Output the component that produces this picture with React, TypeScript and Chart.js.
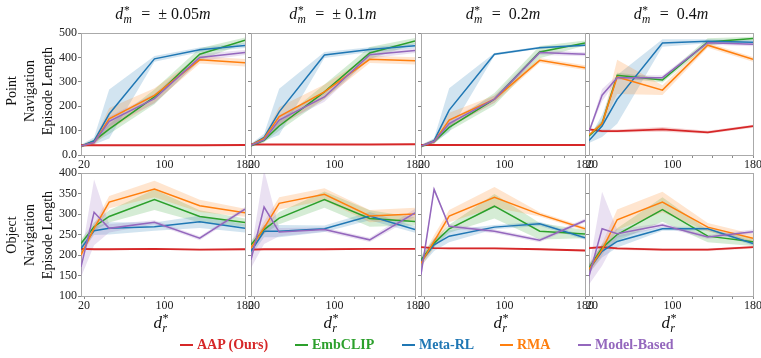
import React, { useEffect, useRef } from 'react';
import { Chart, registerables } from 'chart.js';

Chart.register(...registerables);

// ---------------- data ----------------
const X = [17, 30, 45, 90, 135, 180];
const X_MIN = 17;
const X_MAX = 180;
const X_TICKS = [20, 40, 60, 80, 100, 120, 140, 160, 180];
const X_LABELED = [20, 100, 180];
const SERIES = ['AAP (Ours)', 'EmbCLIP', 'Meta-RL', 'RMA', 'Model-Based'];
const COLORS = ['#d62728', '#2ca02c', '#1f77b4', '#ff7f0e', '#9467bd'];
const COLUMN_VALUES = ['\u00b1 0.05', '\u00b1 0.1', '0.2', '0.4'];
const ROW_LABELS = [
  ['Point', 'Navigation', 'Episode Length'],
  ['Object', 'Navigation', 'Episode Length'],
];
const POINT_Y = { min: 0, max: 500, step: 100 };
const OBJECT_Y = { min: 100, max: 400, step: 50 };

// Point navigation (rows = d*_m columns: ±0.05, ±0.1, 0.2, 0.4)
const POINT_AAP = [
  [40, 40, 40, 40, 40, 41],
  [43, 43, 43, 43, 43, 44],
  [41, 41, 41, 41, 41, 41],
  [105, 98, 98, 105, 93, 118],
];
const POINT_AAP_SD = [
  [2, 2, 2, 2, 2, 2],
  [2, 2, 2, 2, 2, 2],
  [2, 2, 2, 2, 2, 2],
  [6, 6, 6, 10, 6, 6],
];
const POINT_EMBCLIP = [
  [35, 58, 106, 238, 413, 470],
  [38, 60, 119, 259, 418, 467],
  [35, 55, 113, 229, 422, 459],
  [78, 129, 327, 307, 463, 477],
];
const POINT_EMBCLIP_SD = [
  [5, 8, 20, 30, 25, 12],
  [5, 8, 20, 30, 25, 12],
  [5, 8, 15, 25, 25, 10],
  [5, 15, 10, 10, 15, 8],
];
const POINT_METARL = [
  [37, 58, 168, 394, 431, 449],
  [41, 72, 177, 410, 432, 448],
  [37, 59, 184, 413, 440, 450],
  [59, 119, 228, 459, 466, 462],
];
const POINT_METARL_SD = [
  [5, 15, 100, 12, 10, 10],
  [5, 15, 95, 12, 10, 10],
  [5, 10, 90, 5, 5, 5],
  [10, 45, 100, 15, 8, 8],
];
const POINT_RMA = [
  [37, 51, 148, 244, 390, 378],
  [41, 68, 157, 259, 392, 386],
  [37, 55, 143, 229, 388, 358],
  [82, 129, 320, 266, 450, 392],
];
const POINT_RMA_SD = [
  [5, 10, 45, 30, 15, 15],
  [5, 10, 40, 30, 15, 15],
  [5, 10, 30, 15, 10, 10],
  [5, 10, 70, 20, 10, 10],
];
const POINT_MODEL = [
  [37, 51, 138, 231, 400, 420],
  [40, 62, 143, 238, 411, 428],
  [37, 55, 129, 229, 420, 413],
  [95, 245, 317, 317, 460, 454],
];
const POINT_MODEL_SD = [
  [5, 10, 20, 20, 15, 10],
  [5, 10, 20, 20, 15, 10],
  [5, 10, 15, 15, 10, 8],
  [5, 25, 10, 10, 8, 8],
];

// Object navigation
const OBJ_AAP = [
  [215, 214, 214, 215, 213, 214],
  [213, 214, 214, 214, 215, 215],
  [219, 217, 216, 216, 214, 211],
  [217, 219, 216, 213, 213, 219],
];
const OBJ_AAP_SD = [
  [2, 2, 2, 2, 2, 2],
  [2, 2, 2, 2, 2, 2],
  [2, 2, 2, 2, 2, 2],
  [3, 3, 3, 3, 3, 3],
];
const OBJ_EMBCLIP = [
  [228, 269, 294, 335, 294, 279],
  [225, 262, 290, 335, 289, 282],
  [188, 229, 264, 319, 258, 251],
  [168, 217, 250, 311, 246, 232],
];
const OBJ_EMBCLIP_SD = [
  [10, 10, 15, 25, 15, 10],
  [10, 10, 15, 20, 20, 10],
  [10, 10, 10, 30, 20, 10],
  [10, 10, 15, 30, 15, 10],
];
const OBJ_METARL = [
  [216, 259, 265, 269, 281, 265],
  [209, 258, 258, 264, 295, 262],
  [184, 225, 246, 268, 276, 242],
  [165, 209, 233, 264, 264, 228],
];
const OBJ_METARL_SD = [
  [10, 10, 15, 10, 15, 10],
  [10, 15, 15, 8, 10, 8],
  [10, 15, 15, 5, 5, 5],
  [10, 15, 15, 5, 5, 5],
];
const OBJ_RMA = [
  [200, 265, 329, 361, 320, 303],
  [217, 266, 326, 348, 295, 300],
  [180, 233, 295, 341, 299, 264],
  [165, 213, 286, 329, 268, 241],
];
const OBJ_RMA_SD = [
  [10, 10, 15, 20, 15, 10],
  [10, 15, 15, 15, 15, 15],
  [10, 15, 15, 25, 5, 5],
  [10, 15, 25, 25, 10, 10],
];
const OBJ_MODEL = [
  [171, 304, 265, 280, 241, 312],
  [188, 317, 256, 262, 237, 303],
  [152, 360, 270, 258, 236, 284],
  [148, 264, 252, 273, 244, 257],
];
const OBJ_MODEL_SD = [
  [25, 80, 10, 5, 5, 5],
  [20, 90, 10, 5, 5, 10],
  [10, 5, 5, 5, 5, 5],
  [20, 90, 10, 5, 5, 5],
];

const MEANS = [
  [POINT_AAP, POINT_EMBCLIP, POINT_METARL, POINT_RMA, POINT_MODEL],
  [OBJ_AAP, OBJ_EMBCLIP, OBJ_METARL, OBJ_RMA, OBJ_MODEL],
];
const SPREADS = [
  [POINT_AAP_SD, POINT_EMBCLIP_SD, POINT_METARL_SD, POINT_RMA_SD, POINT_MODEL_SD],
  [OBJ_AAP_SD, OBJ_EMBCLIP_SD, OBJ_METARL_SD, OBJ_RMA_SD, OBJ_MODEL_SD],
];

// ---------------- layout ----------------
const SERIF = '"Liberation Serif", "Times New Roman", Times, serif';
const COL_LEFT = [81, 251, 421, 589];
const PLOT_W = 164;
const ROW_TOP = [33, 173];
const PLOT_H = [122, 123];
const PAD_T = 10;
const PAD_R = 14;
const PAD_B = 24;
const LEGEND_X = [180, 295, 402, 500, 578];

function hexToRgba(hex: string, a: number) {
  const n = parseInt(hex.slice(1), 16);
  return `rgba(${(n >> 16) & 255}, ${(n >> 8) & 255}, ${n & 255}, ${a})`;
}

function Panel({ row, col }: { row: number; col: number }) {
  const ref = useRef<HTMLCanvasElement>(null);
  const padL = col === 0 ? 40 : 8;
  const w = padL + PLOT_W + PAD_R;
  const h = PAD_T + PLOT_H[row] + PAD_B;

  useEffect(() => {
    if (!ref.current) return;
    const yCfg = row === 0 ? POINT_Y : OBJECT_Y;
    const datasets: any[] = [];
    SERIES.forEach((name, s) => {
      const m = MEANS[row][s][col];
      datasets.push({
        label: name,
        data: X.map((x, i) => ({ x, y: m[i] })),
        borderColor: COLORS[s],
        backgroundColor: COLORS[s],
        borderWidth: s === 0 ? 1.8 : 1.5,
        pointRadius: 0,
        tension: 0,
        fill: false,
        order: 5 - s,
        xAxisID: 'x',
        yAxisID: 'y',
      });
    });
    SERIES.forEach((name, s) => {
      const m = MEANS[row][s][col];
      const sd = SPREADS[row][s][col];
      datasets.push({
        label: name + ' upper',
        data: X.map((x, i) => ({ x, y: m[i] + sd[i] })),
        borderWidth: 0,
        borderColor: 'rgba(0,0,0,0)',
        backgroundColor: hexToRgba(COLORS[s], 0.2),
        pointRadius: 0,
        tension: 0,
        fill: '+1',
        order: 20 - s,
        xAxisID: 'x',
        yAxisID: 'y',
      });
      datasets.push({
        label: name + ' lower',
        data: X.map((x, i) => ({ x, y: m[i] - sd[i] })),
        borderWidth: 0,
        borderColor: 'rgba(0,0,0,0)',
        pointRadius: 0,
        tension: 0,
        fill: false,
        order: 20 - s,
        xAxisID: 'x',
        yAxisID: 'y',
      });
    });

    const tickFont = { family: SERIF, size: 12 };
    const chart = new Chart(ref.current, {
      type: 'line',
      data: { datasets },
      options: {
        animation: false,
        responsive: false,
        maintainAspectRatio: false,
        devicePixelRatio: 1,
        layout: { padding: { top: PAD_T, right: PAD_R, left: 0, bottom: 0 } },
        plugins: { legend: { display: false }, tooltip: { enabled: false } },
        scales: {
          x: {
            type: 'linear',
            axis: 'x',
            position: 'bottom',
            min: X_MIN,
            max: X_MAX,
            afterBuildTicks: (a: any) => {
              a.ticks = X_TICKS.map((v) => ({ value: v }));
            },
            afterFit: (a: any) => {
              a.height = PAD_B;
            },
            ticks: {
              autoSkip: false,
              maxRotation: 0,
              minRotation: 0,
              padding: 0,
              color: '#222',
              font: tickFont,
              callback: (v: any) => (X_LABELED.includes(Number(v)) ? String(v) : ''),
            },
            grid: { drawOnChartArea: false, drawTicks: true, tickLength: 3, tickColor: '#8a8a8a', tickWidth: 1 },
            border: { display: true, color: '#aaaaaa', width: 1 },
          },
          y: {
            type: 'linear',
            axis: 'y',
            position: 'left',
            min: yCfg.min,
            max: yCfg.max,
            afterFit: (a: any) => {
              a.width = padL;
            },
            ticks: {
              stepSize: yCfg.step,
              autoSkip: false,
              padding: 1,
              color: '#222',
              font: tickFont,
              callback: (v: any) => (col === 0 ? (Number(v) === 0 ? '0.0' : String(v)) : ''),
            },
            grid: { drawOnChartArea: false, drawTicks: true, tickLength: 3, tickColor: '#8a8a8a', tickWidth: 1 },
            border: { display: true, color: '#aaaaaa', width: 1 },
          },
          xTop: {
            type: 'linear',
            axis: 'x',
            position: 'top',
            min: X_MIN,
            max: X_MAX,
            afterFit: (a: any) => {
              a.height = 0;
            },
            ticks: { display: false },
            grid: { drawOnChartArea: false, drawTicks: false },
            border: { display: true, color: '#aaaaaa', width: 1 },
          },
          yRight: {
            type: 'linear',
            axis: 'y',
            position: 'right',
            min: yCfg.min,
            max: yCfg.max,
            afterFit: (a: any) => {
              a.width = 0;
            },
            ticks: { display: false },
            grid: { drawOnChartArea: false, drawTicks: false },
            border: { display: true, color: '#aaaaaa', width: 1 },
          },
        },
      } as any,
    });
    return () => chart.destroy();
  }, [row, col]);

  return (
    <canvas
      ref={ref}
      width={w}
      height={h}
      style={{
        position: 'absolute',
        left: COL_LEFT[col] - padL,
        top: ROW_TOP[row] - PAD_T,
        width: w,
        height: h,
      }}
    />
  );
}

function StarSub({ sub }: { sub: string }) {
  return (
    <span style={{ position: 'relative', display: 'inline-block', width: '0.62em' }}>
      <span style={{ visibility: 'hidden' }}>m</span>
      <span style={{ position: 'absolute', left: '0.05em', top: '-0.38em', fontSize: '0.72em', fontStyle: 'normal' }}>*</span>
      <span style={{ position: 'absolute', left: '0.02em', top: '0.42em', fontSize: '0.72em', fontStyle: 'italic' }}>{sub}</span>
    </span>
  );
}

export default function App() {
  const panels: React.ReactNode[] = [];
  for (let r = 0; r < 2; r++) for (let c = 0; c < 4; c++) panels.push(<Panel key={`${r}-${c}`} row={r} col={c} />);

  return (
    <div style={{ position: 'relative', width: 761, height: 358, overflow: 'hidden', background: '#fff', fontFamily: SERIF, color: '#111' }}>
      <style>{`body{margin:0;background:#fff;}`}</style>
      {panels}
      {COLUMN_VALUES.map((v, c) => (
        <div
          key={'t' + c}
          style={{ position: 'absolute', left: COL_LEFT[c] - 20, width: PLOT_W + 40, top: 3, textAlign: 'center', fontSize: 16, lineHeight: '22px', whiteSpace: 'nowrap' }}
        >
          <i>d</i>
          <StarSub sub="m" />
          {'\u2002=\u2002'}
          {v}
          <i>m</i>
        </div>
      ))}
      {ROW_LABELS.map((lines, r) => (
        <div
          key={'r' + r}
          style={{
            position: 'absolute',
            left: 31 - 60,
            top: (r === 0 ? 91 : 235) - 28,
            width: 120,
            height: 56,
            transform: 'rotate(-90deg)',
            textAlign: 'center',
            fontSize: 14,
            lineHeight: '18px',
            whiteSpace: 'nowrap',
          }}
        >
          {lines.map((l, i) => (
            <div key={i}>{l}</div>
          ))}
        </div>
      ))}
      {COL_LEFT.map((x, c) => (
        <div
          key={'xl' + c}
          style={{ position: 'absolute', left: x, width: PLOT_W, top: 311, textAlign: 'center', fontSize: 17, lineHeight: '24px' }}
        >
          <i>d</i>
          <StarSub sub="r" />
        </div>
      ))}
      {SERIES.map((name, s) => (
        <div
          key={'lg' + s}
          style={{ position: 'absolute', left: LEGEND_X[s], top: 336, height: 18, display: 'flex', alignItems: 'center', whiteSpace: 'nowrap' }}
        >
          <span style={{ display: 'inline-block', width: 13, height: 1.5, background: COLORS[s], marginRight: 4 }} />
          <span style={{ color: COLORS[s], fontWeight: 'bold', fontSize: 14 }}>{name}</span>
        </div>
      ))}
    </div>
  );
}
